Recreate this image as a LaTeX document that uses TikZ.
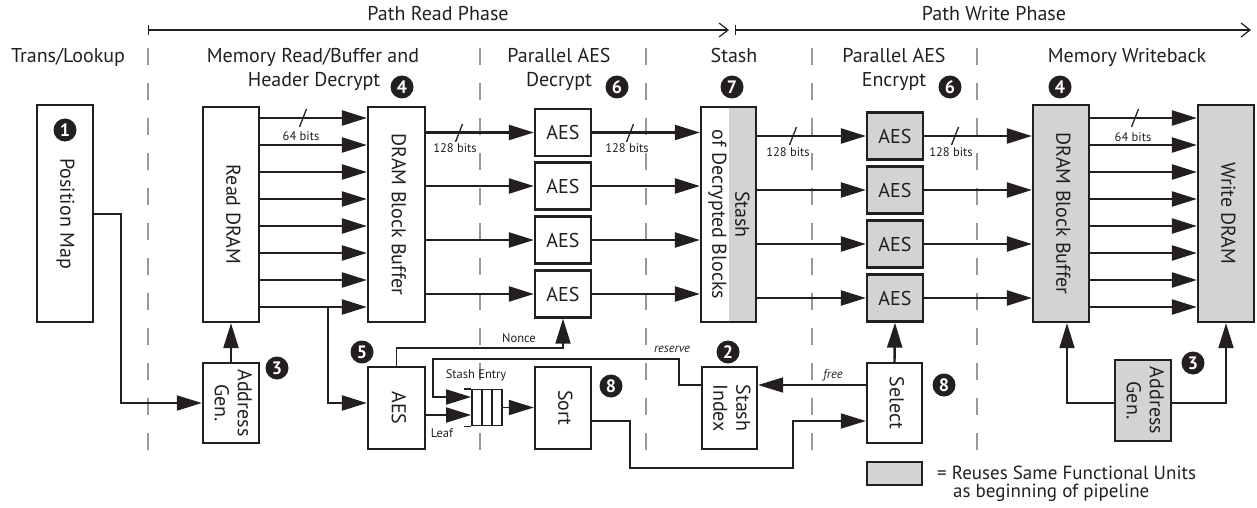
\documentclass[tikz,border=0pt]{standalone}
\usepackage{fontspec}
\setmainfont{PT Sans}
\usetikzlibrary{calc,arrows.meta}
\definecolor{inkBlack}{RGB}{35,31,32}
\definecolor{reuseGray}{RGB}{209,211,212}
\definecolor{sepGray}{RGB}{150,152,155}

\newcommand{\vtxt}[1]{\rotatebox{-90}{\begin{tabular}{@{}c@{}}#1\end{tabular}}}

\tikzset{
  unitBox/.style={draw=inkBlack,line width=2.3pt,fill=white,inner sep=0pt,text=inkBlack,font=\fontsize{20}{23}\selectfont},
  reuseBox/.style={unitBox,fill=reuseGray},
  dataArrow/.style={draw=inkBlack,line width=2.4pt,-{Triangle[length=25pt,width=15pt]}},
  ctlArrow/.style={draw=inkBlack,line width=1.8pt,-{Triangle[length=25pt,width=15pt]}},
  ctlLine/.style={draw=inkBlack,line width=1.8pt},
  bitsTick/.style={draw=inkBlack,line width=1.3pt},
  stepBadge/.style={circle,fill=inkBlack,text=white,inner sep=0pt,minimum size=23pt,font=\bfseries\fontsize{18}{18}\selectfont},
  colTitle/.style={anchor=base,inner sep=0pt,text=inkBlack,font=\fontsize{20}{22}\selectfont},
  bitsNote/.style={inner sep=0pt,text=inkBlack,font=\fontsize{12.5}{13}\selectfont},
  stageSep/.style={draw=sepGray,line width=1.2pt,dash pattern=on 17pt off 18pt},
  phaseLine/.style={draw=inkBlack,line width=1.2pt,{Bar[width=10pt]}-{Straight Barb[length=9pt,width=14pt]}},
}

\begin{document}
\begin{tikzpicture}[x=1pt,y=-1pt]
\useasboundingbox (0,0) rectangle (1257,508);

% phases and stage separators
\coordinate (readStart) at (148,30);
\coordinate (readEnd) at (729,30);
\coordinate (writeStart) at (735,30);
\coordinate (writeEnd) at (1251,30);
\draw[phaseLine] (readStart) -- (readEnd);
\draw[phaseLine] (writeStart) -- (writeEnd);
\node[colTitle] (readPhase) at (438,21) {Path Read Phase};
\node[colTitle] (writePhase) at (994,21) {Path Write Phase};
\foreach \sx in {148,480,646,812,977}
  \draw[stageSep] (\sx,48) -- (\sx,460);

\node[colTitle] (transTitle) at (68,63) {Trans/Lookup};
\node[colTitle] (memRdTitleA) at (313,63) {Memory Read/Buffer and};
\node[colTitle] (memRdTitleB) at (314,87) {Header Decrypt};
\node[colTitle] (decTitleA) at (559,63) {Parallel AES};
\node[colTitle] (decTitleB) at (559,87) {Decrypt};
\node[colTitle] (stashTitle) at (734,63) {Stash};
\node[colTitle] (encTitleA) at (894,63) {Parallel AES};
\node[colTitle] (encTitleB) at (894,87) {Encrypt};
\node[colTitle] (wbTitle) at (1127,63) {Memory Writeback};

% units
\node[unitBox,minimum width=56pt,minimum height=217pt] (posMap) at (65,213.5) {\vtxt{Position Map}};
\node[unitBox,minimum width=56pt,minimum height=215pt] (readDram) at (231,214.5) {\vtxt{Read DRAM}};
\node[unitBox,minimum width=57pt,minimum height=215pt] (rdBuf) at (396.5,214.5) {\vtxt{DRAM Block Buffer}};
\node[unitBox,minimum width=56pt,minimum height=80pt] (rdAddr) at (231,403) {\vtxt{Address\\Gen.}};
\node[unitBox,minimum width=57pt,minimum height=82pt] (hdrAes) at (396.5,408) {\vtxt{AES}};
\foreach \k/\cy in {1/132.5,2/186,3/240,4/294}
  \node[unitBox,minimum width=56pt,minimum height=47pt] (decAes\k) at (563,\cy) {AES};
\node[unitBox,minimum width=55pt,minimum height=215pt,
  path picture={\fill[reuseGray] ($(path picture bounding box.north east)+(-27pt,0pt)$) rectangle (path picture bounding box.south east);}]
  (stash) at (728.5,214.5) {\vtxt{Stash\\of Decrypted Blocks}};
\foreach \k/\cy in {1/136,2/190,3/244,4/298}
  \node[reuseBox,minimum width=56pt,minimum height=47pt] (encAes\k) at (895,\cy) {AES};
\node[reuseBox,minimum width=56pt,minimum height=217pt] (wrBuf) at (1061,213.5) {\vtxt{DRAM Block Buffer}};
\node[reuseBox,minimum width=56pt,minimum height=217pt] (wrDram) at (1226,213.5) {\vtxt{Write DRAM}};
\node[reuseBox,minimum width=56pt,minimum height=81pt] (wrAddr) at (1143,400.5) {\vtxt{Address\\Gen.}};
\node[unitBox,minimum width=55pt,minimum height=80pt] (selectBox) at (894.5,403) {\vtxt{Select}};
\node[unitBox,minimum width=55pt,minimum height=82pt] (stashIdx) at (729.5,408) {\vtxt{Stash\\Index}};
\node[unitBox,minimum width=56pt,minimum height=82pt] (sortBox) at (563,408) {\vtxt{Sort}};
\node[unitBox,line width=1.8pt,minimum width=30pt,minimum height=36pt] (queue) at (487,407.5) {};
\draw[ctlLine] (queue.north west) -- ++(-7,0) (queue.south west) -- ++(-7,0);
\foreach \qx in {482,492}
  \draw[ctlLine] (queue.north -| \qx,0) -- (queue.south -| \qx,0);

% step badges
\node[stepBadge] (stepOne) at (65,130) {1};
\node[stepBadge] (stepTwo) at (728,352) {2};
\node[stepBadge] (stepThreeRd) at (277,368) {3};
\node[stepBadge] (stepThreeWr) at (1193,363) {3};
\node[stepBadge] (stepFourRd) at (402,87) {4};
\node[stepBadge] (stepFourWr) at (1060,87) {4};
\node[stepBadge] (stepFive) at (362,352) {5};
\node[stepBadge] (stepSixDec) at (617,87) {6};
\node[stepBadge] (stepSixEnc) at (950,87) {6};
\node[stepBadge] (stepSeven) at (732,87) {7};
\node[stepBadge] (stepEightSort) at (611,386) {8};
\node[stepBadge] (stepEightSel) at (944,385) {8};

% data paths
\foreach \ry in {118,145,...,307} {
  \draw[dataArrow] (readDram.east |- 0,\ry) -- (rdBuf.west |- 0,\ry);
  \draw[dataArrow] (wrBuf.east |- 0,\ry) -- (wrDram.west |- 0,\ry);
}
\foreach \k in {1,...,4} {
  \draw[dataArrow] (rdBuf.east |- decAes\k.west) -- (decAes\k.west);
  \draw[dataArrow] (decAes\k.east) -- (stash.west |- decAes\k.east);
  \draw[dataArrow] (stash.east |- encAes\k.west) -- (encAes\k.west);
  \draw[dataArrow] (encAes\k.east) -- (wrBuf.west |- encAes\k.east);
}
\foreach \bx/\by in {303/118,459/133,630/133,793/136,955/136,1135/118}
  \draw[bitsTick] (\bx-3.5,\by+9) -- (\bx+3.5,\by-9);
\node[bitsNote] (rdBits) at (301,136) {64 bits};
\node[bitsNote] (bufBits) at (455,148) {128 bits};
\node[bitsNote] (decBits) at (627,148) {128 bits};
\node[bitsNote] (stashBits) at (788,152) {128 bits};
\node[bitsNote] (encBits) at (951,152) {128 bits};
\node[bitsNote] (wrBits) at (1133,137) {64 bits};

% control paths
\coordinate (tapRow) at (328,307);
\draw[ctlArrow] (posMap.east |- 0,214) -- ++(27,0) |- (rdAddr.west);
\draw[dataArrow] (rdAddr.north) -- (readDram.south);
\draw[dataArrow] (tapRow) |- (hdrAes.west |- rdAddr.west);
\draw[ctlArrow] (hdrAes.north) -- ++(0,-18) -| (decAes4.south);
\node[bitsNote] (nonceNote) at (519,338) {Nonce};
\draw[ctlArrow] (hdrAes.east |- 0,415) -- (queue.west |- 0,415);
\node[bitsNote] (leafNote) at (442,433) {Leaf};
\draw[ctlArrow] (stashIdx.west |- 0,385) -| (679,359) -| (433,397) -- (queue.west |- 0,397);
\node[bitsNote] (entryNote) at (476,375) {Stash Entry};
\node[bitsNote,font=\itshape\fontsize{12.5}{13}\selectfont] (reserveNote) at (672,349) {reserve};
\draw[ctlArrow] (queue.east) -- (sortBox.west |- queue.east);
\draw[ctlArrow] (sortBox.east |- 0,421) -| (630,468) -| (793,421) -- (selectBox.west |- 0,421);
\draw[ctlArrow] (selectBox.west |- 0,385) -- (stashIdx.east |- 0,385);
\node[bitsNote,font=\itshape\fontsize{12.5}{13}\selectfont] (freeNote) at (833,375) {free};
\draw[dataArrow] (selectBox.north) -- (encAes4.south);
\draw[ctlArrow] (wrAddr.west |- 0,403) -| ($(wrBuf.south)+(6,0)$);
\draw[ctlArrow] (wrAddr.east |- 0,403) -| (wrDram.south);

% legend
\node[reuseBox,minimum width=55pt,minimum height=23pt] (legendKey) at (894.5,473.5) {};
\node[colTitle,anchor=base west,font=\fontsize{19}{22}\selectfont] (legendTextA) at (937,479) {= Reuses Same Functional Units};
\node[colTitle,anchor=base west,font=\fontsize{19}{22}\selectfont] (legendTextB) at (953,497) {as beginning of pipeline};
\end{tikzpicture}
\end{document}
